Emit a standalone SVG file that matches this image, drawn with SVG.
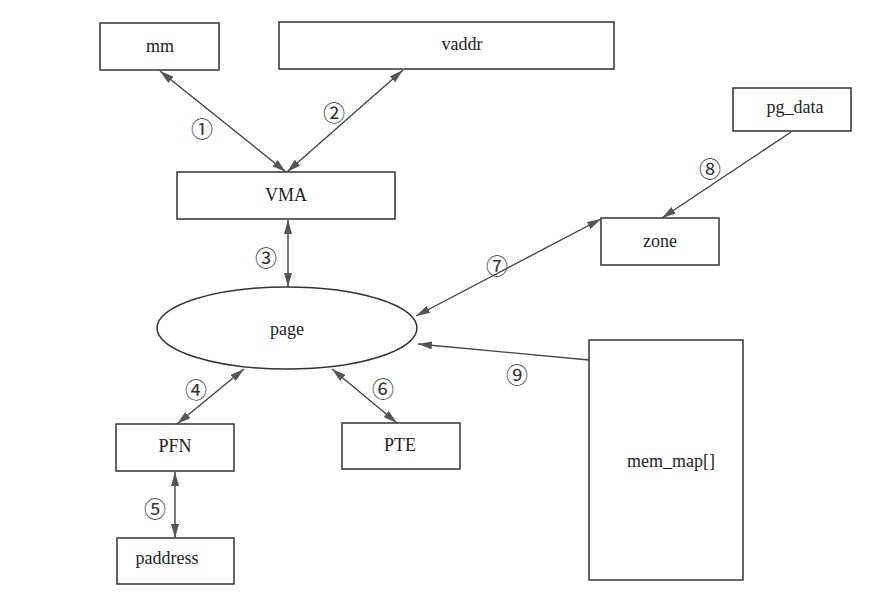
<svg xmlns="http://www.w3.org/2000/svg" width="888" height="596" viewBox="0 0 888 596">
<style>
.box{fill:#fff;stroke:#333;stroke-width:1.5}
.t{font-family:"Liberation Serif","Times New Roman",serif;font-size:18px;fill:#222;text-anchor:middle;dominant-baseline:central}
.n{font-family:"Noto Sans CJK SC","DejaVu Sans",sans-serif;font-size:22px;fill:#333;text-anchor:middle;dominant-baseline:central}
.c{stroke:#444;stroke-width:1.4;fill:none}
</style>
<defs>
<marker id="ah" viewBox="0 0 14 8" refX="14" refY="4" markerWidth="14" markerHeight="8" markerUnits="userSpaceOnUse" orient="auto-start-reverse">
<path d="M0,0 L14,4 L0,8 Z" fill="#555"/>
</marker>
</defs>
<rect width="888" height="596" fill="#fff"/>
<g id="connectors">
<line class="c" x1="160" y1="71" x2="286" y2="172" marker-start="url(#ah)" marker-end="url(#ah)"/>
<line class="c" x1="403" y1="70" x2="287" y2="172" marker-start="url(#ah)" marker-end="url(#ah)"/>
<line class="c" x1="288" y1="220" x2="288" y2="287" marker-start="url(#ah)" marker-end="url(#ah)"/>
<line class="c" x1="416" y1="316" x2="601" y2="219" marker-start="url(#ah)" marker-end="url(#ah)"/>
<line class="c" x1="791" y1="132" x2="662" y2="218" marker-end="url(#ah)"/>
<line class="c" x1="589" y1="360" x2="418" y2="344" marker-end="url(#ah)"/>
<line class="c" x1="177" y1="424" x2="244" y2="369" marker-start="url(#ah)" marker-end="url(#ah)"/>
<line class="c" x1="332" y1="369" x2="397" y2="423" marker-start="url(#ah)" marker-end="url(#ah)"/>
<line class="c" x1="175" y1="472" x2="175" y2="538" marker-start="url(#ah)" marker-end="url(#ah)"/>
<text class="n" x="202" y="127">①</text>
<text class="n" x="334" y="111">②</text>
<text class="n" x="266" y="256">③</text>
<text class="n" x="196" y="388">④</text>
<text class="n" x="155" y="507">⑤</text>
<text class="n" x="383" y="387">⑥</text>
<text class="n" x="497" y="264">⑦</text>
<text class="n" x="710" y="167">⑧</text>
<text class="n" x="517" y="373">⑨</text>
</g>
<g id="mm"><rect class="box" x="100" y="23" width="119" height="47"/><text class="t" x="160" y="46">mm</text></g>
<g id="vaddr"><rect class="box" x="279" y="22" width="335" height="47"/><text class="t" x="462" y="44">vaddr</text></g>
<g id="vma"><rect class="box" x="177" y="172" width="218" height="47"/><text class="t" x="286" y="195">VMA</text></g>
<g id="pg_data"><rect class="box" x="733" y="88" width="118" height="43"/><text class="t" x="795" y="107">pg_data</text></g>
<g id="zone"><rect class="box" x="601" y="218" width="118" height="47"/><text class="t" x="660" y="241">zone</text></g>
<g id="page"><ellipse class="box" cx="287" cy="328" rx="130" ry="41"/><text class="t" x="287" y="329">page</text></g>
<g id="mem_map"><rect class="box" x="589" y="340" width="154" height="240"/><text class="t" x="671" y="461">mem_map[]</text></g>
<g id="pfn"><rect class="box" x="116" y="424" width="118" height="47"/><text class="t" x="175" y="446">PFN</text></g>
<g id="pte"><rect class="box" x="342" y="423" width="118" height="46"/><text class="t" x="400" y="445">PTE</text></g>
<g id="paddress"><rect class="box" x="117" y="538" width="117" height="46"/><text class="t" x="167" y="558">paddress</text></g>
</svg>
